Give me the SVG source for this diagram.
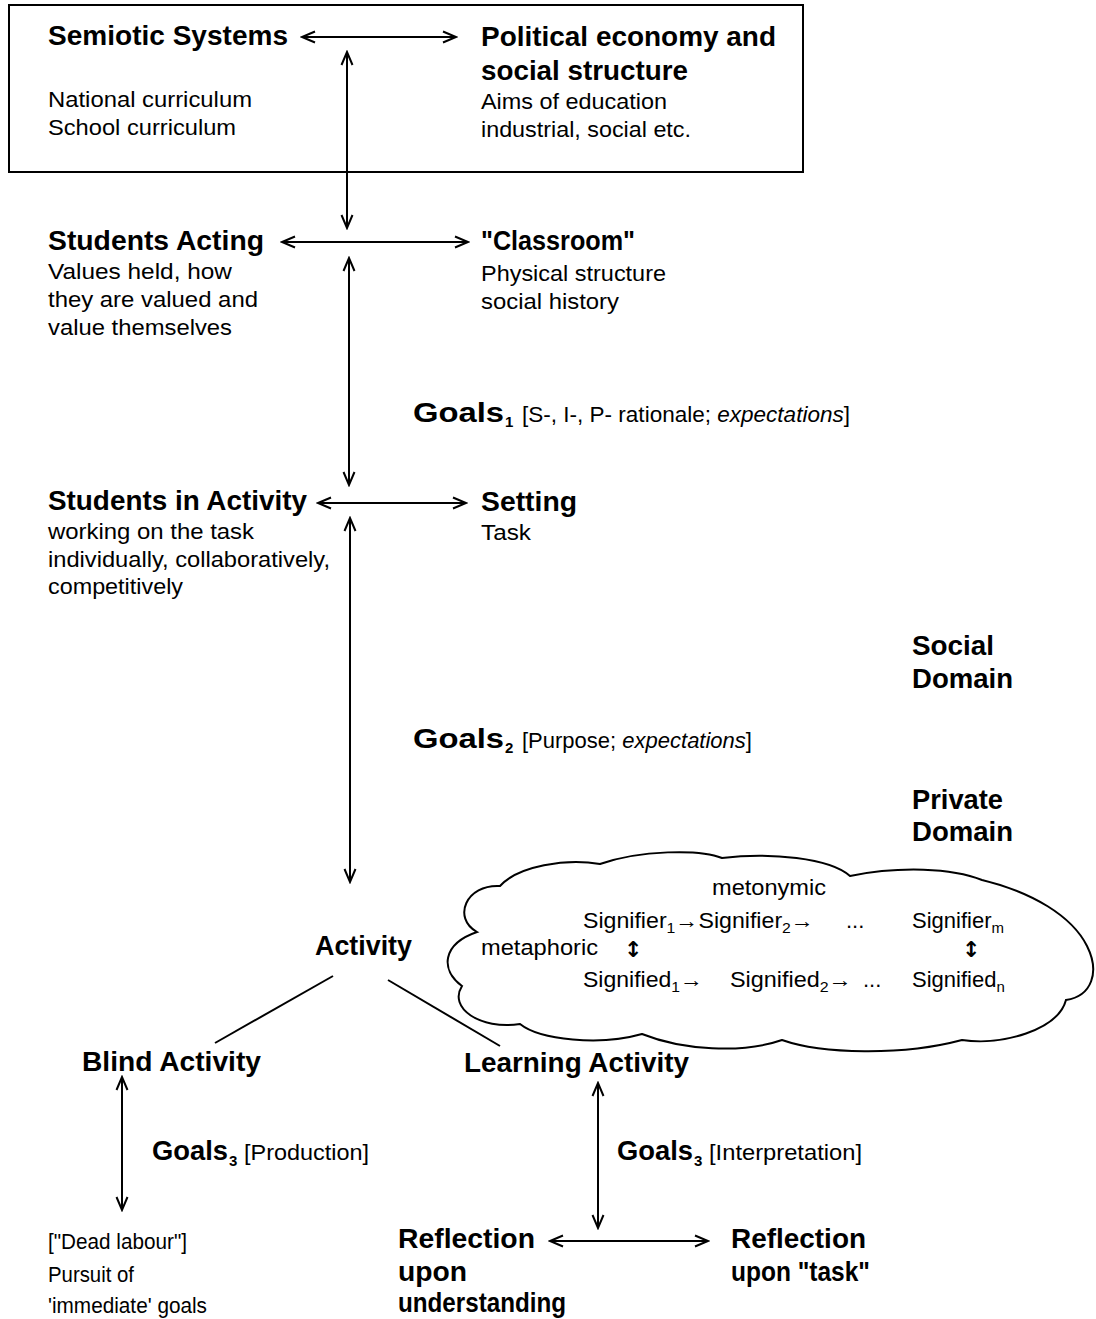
<svg xmlns="http://www.w3.org/2000/svg" width="1096" height="1319" viewBox="0 0 1096 1319">
<style>
text{font-family:"Liberation Sans",Arial,"DejaVu Sans",sans-serif;fill:#000}
.b{font-weight:bold;font-size:28px}
.r{font-size:22px}
.c{font-size:22px}
.sub{font-size:15px}
.ud{font-family:"DejaVu Sans",sans-serif;font-size:22px;font-weight:bold}
.ln{stroke:#000;stroke-width:2;fill:none}
.ar{stroke:#000;stroke-width:2;fill:none;marker-start:url(#ah);marker-end:url(#ah)}
</style>
<defs>
<marker id="ah" viewBox="-14 -7 16 14" refX="0" refY="0" markerWidth="16" markerHeight="14" markerUnits="userSpaceOnUse" orient="auto-start-reverse">
<path d="M-13,-5.5 L0,0 L-13,5.5" fill="none" stroke="#000" stroke-width="2"/>
</marker>
</defs>
<rect width="1096" height="1319" fill="#fff"/>

<g id="social-box">
<rect x="9" y="5" width="794" height="167" fill="none" stroke="#000" stroke-width="2"/>
</g>

<g id="semiotic-systems">
<text class="b" x="48" y="45" textLength="240" lengthAdjust="spacingAndGlyphs">Semiotic Systems</text>
<text class="r" x="48" y="107" textLength="204" lengthAdjust="spacingAndGlyphs">National curriculum</text>
<text class="r" x="48" y="135" textLength="188" lengthAdjust="spacingAndGlyphs">School curriculum</text>
</g>

<g id="political-economy">
<text class="b" x="481" y="46" textLength="295" lengthAdjust="spacingAndGlyphs">Political economy and</text>
<text class="b" x="481" y="80" textLength="207" lengthAdjust="spacingAndGlyphs">social structure</text>
<text class="r" x="481" y="109" textLength="186" lengthAdjust="spacingAndGlyphs">Aims of education</text>
<text class="r" x="481" y="137" textLength="210" lengthAdjust="spacingAndGlyphs">industrial, social etc.</text>
</g>

<g id="students-acting">
<text class="b" x="48" y="250" textLength="216" lengthAdjust="spacingAndGlyphs">Students Acting</text>
<text class="r" x="48" y="279" textLength="184" lengthAdjust="spacingAndGlyphs">Values held, how</text>
<text class="r" x="48" y="307" textLength="210" lengthAdjust="spacingAndGlyphs">they are valued and</text>
<text class="r" x="48" y="335" textLength="184" lengthAdjust="spacingAndGlyphs">value themselves</text>
</g>

<g id="classroom">
<text class="b" x="481" y="250" textLength="154" lengthAdjust="spacingAndGlyphs">"Classroom"</text>
<text class="r" x="481" y="281" textLength="185" lengthAdjust="spacingAndGlyphs">Physical structure</text>
<text class="r" x="481" y="309" textLength="138" lengthAdjust="spacingAndGlyphs">social history</text>
</g>

<g id="goals1">
<text class="b" x="413" y="422" textLength="91" lengthAdjust="spacingAndGlyphs">Goals</text>
<text class="sub" x="505" y="427" font-weight="bold">1</text>
<text class="r" x="522" y="422" textLength="328" lengthAdjust="spacingAndGlyphs">[S-, I-, P- rationale; <tspan font-style="italic">expectations</tspan>]</text>
</g>

<g id="students-in-activity">
<text class="b" x="48" y="510" textLength="259" lengthAdjust="spacingAndGlyphs">Students in Activity</text>
<text class="r" x="48" y="539" textLength="206" lengthAdjust="spacingAndGlyphs">working on the task</text>
<text class="r" x="48" y="567" textLength="282" lengthAdjust="spacingAndGlyphs">individually, collaboratively,</text>
<text class="r" x="48" y="594" textLength="135" lengthAdjust="spacingAndGlyphs">competitively</text>
</g>

<g id="setting">
<text class="b" x="481" y="511" textLength="96" lengthAdjust="spacingAndGlyphs">Setting</text>
<text class="r" x="481" y="540" textLength="50" lengthAdjust="spacingAndGlyphs">Task</text>
</g>

<g id="social-domain">
<text class="b" x="912" y="655" textLength="82" lengthAdjust="spacingAndGlyphs">Social</text>
<text class="b" x="912" y="688" textLength="101" lengthAdjust="spacingAndGlyphs">Domain</text>
</g>

<g id="goals2">
<text class="b" x="413" y="748" textLength="91" lengthAdjust="spacingAndGlyphs">Goals</text>
<text class="sub" x="505" y="753" font-weight="bold">2</text>
<text class="r" x="522" y="748" textLength="230" lengthAdjust="spacingAndGlyphs">[Purpose; <tspan font-style="italic">expectations</tspan>]</text>
</g>

<g id="private-domain">
<text class="b" x="912" y="809" textLength="91" lengthAdjust="spacingAndGlyphs">Private</text>
<text class="b" x="912" y="841" textLength="101" lengthAdjust="spacingAndGlyphs">Domain</text>
</g>

<g id="activity">
<text class="b" x="315" y="955" textLength="97" lengthAdjust="spacingAndGlyphs">Activity</text>
</g>

<g id="semiotic-cloud">
<path class="ln" d="M477,932 C452,918 466,884 500,886 C518,866 566,858 600,864 C640,850 700,849 722,858 C770,852 830,858 850,876 C900,866 952,868 982,880 C1032,892 1072,916 1087,946 C1100,972 1092,996 1066,1000 C1058,1030 1002,1046 962,1040 C902,1056 822,1054 782,1040 C742,1054 682,1050 642,1034 C600,1046 540,1040 520,1024 C480,1030 448,1008 462,986 C440,970 442,944 477,932 Z"/>
<text class="c" x="712" y="895" textLength="114" lengthAdjust="spacingAndGlyphs">metonymic</text>
<text class="c" x="583" y="928" textLength="231" lengthAdjust="spacingAndGlyphs">Signifier<tspan class="sub" dy="5">1</tspan><tspan dy="-5">→Signifier</tspan><tspan class="sub" dy="5">2</tspan><tspan dy="-5">→</tspan></text>
<text class="c" x="846" y="928">...</text>
<text class="c" x="912" y="928">Signifier<tspan class="sub" dy="5">m</tspan></text>
<text class="c" x="481" y="955" textLength="117" lengthAdjust="spacingAndGlyphs">metaphoric</text>
<text class="ud" x="624" y="957">↕</text>
<text class="ud" x="962" y="957">↕</text>
<text class="c" x="583" y="987" textLength="120" lengthAdjust="spacingAndGlyphs">Signified<tspan class="sub" dy="5">1</tspan><tspan dy="-5">→</tspan></text>
<text class="c" x="730" y="987" textLength="122" lengthAdjust="spacingAndGlyphs">Signified<tspan class="sub" dy="5">2</tspan><tspan dy="-5">→</tspan></text>
<text class="c" x="863" y="987">...</text>
<text class="c" x="912" y="987">Signified<tspan class="sub" dy="5">n</tspan></text>
</g>

<g id="blind-activity">
<text class="b" x="82" y="1071" textLength="179" lengthAdjust="spacingAndGlyphs">Blind Activity</text>
</g>

<g id="learning-activity">
<text class="b" x="464" y="1072" textLength="225" lengthAdjust="spacingAndGlyphs">Learning Activity</text>
</g>

<g id="goals3-production">
<text class="b" x="152" y="1160" textLength="76" lengthAdjust="spacingAndGlyphs">Goals</text>
<text class="sub" x="229" y="1166" font-weight="bold">3</text>
<text class="r" x="244" y="1160" textLength="125" lengthAdjust="spacingAndGlyphs">[Production]</text>
</g>

<g id="goals3-interpretation">
<text class="b" x="617" y="1160" textLength="76" lengthAdjust="spacingAndGlyphs">Goals</text>
<text class="sub" x="694" y="1166" font-weight="bold">3</text>
<text class="r" x="709" y="1160" textLength="153" lengthAdjust="spacingAndGlyphs">[Interpretation]</text>
</g>

<g id="dead-labour">
<text class="r" x="48" y="1249" textLength="139" lengthAdjust="spacingAndGlyphs">["Dead labour"]</text>
<text class="r" x="48" y="1282" textLength="86" lengthAdjust="spacingAndGlyphs">Pursuit of</text>
<text class="r" x="48" y="1313" textLength="159" lengthAdjust="spacingAndGlyphs">'immediate' goals</text>
</g>

<g id="reflection-understanding">
<text class="b" x="398" y="1248" textLength="137" lengthAdjust="spacingAndGlyphs">Reflection</text>
<text class="b" x="398" y="1281" textLength="69" lengthAdjust="spacingAndGlyphs">upon</text>
<text class="b" x="398" y="1312" textLength="168" lengthAdjust="spacingAndGlyphs">understanding</text>
</g>

<g id="reflection-task">
<text class="b" x="731" y="1248" textLength="135" lengthAdjust="spacingAndGlyphs">Reflection</text>
<text class="b" x="731" y="1281" textLength="139" lengthAdjust="spacingAndGlyphs">upon "task"</text>
</g>

<g id="connectors">
<line class="ar" x1="302" y1="37" x2="456" y2="37"/>
<line class="ar" x1="347" y1="52" x2="347" y2="228"/>
<line class="ar" x1="282" y1="242" x2="468" y2="242"/>
<line class="ar" x1="349" y1="258" x2="349" y2="485"/>
<line class="ar" x1="318" y1="503" x2="466" y2="503"/>
<line class="ar" x1="350" y1="518" x2="350" y2="882"/>
<line class="ln" x1="333" y1="976" x2="215" y2="1043"/>
<line class="ln" x1="388" y1="980" x2="500" y2="1046"/>
<line class="ar" x1="122" y1="1077" x2="122" y2="1210"/>
<line class="ar" x1="598" y1="1083" x2="598" y2="1228"/>
<line class="ar" x1="550" y1="1241" x2="708" y2="1241"/>
</g>
</svg>
